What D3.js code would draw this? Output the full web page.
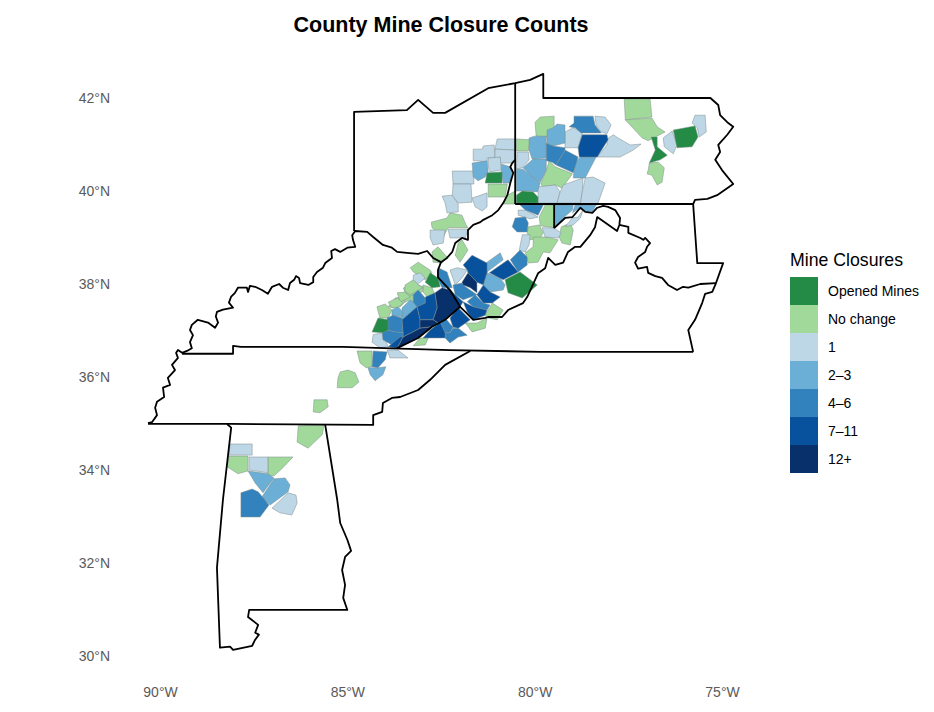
<!DOCTYPE html>
<html>
<head>
<meta charset="utf-8">
<script src="https://cdn.jsdelivr.net/npm/d3@7"></script>
<style>
  body { margin: 0; background: #fff; font-family: "Liberation Sans", Arial, sans-serif; }
</style>
</head>
<body>
<div id="chart"></div>
<script>
// legend classes
const classLabels = ["Opened Mines", "No change", "1", "2–3", "4–6", "7–11", "12+"];
const classColors = ["#238b45", "#a1d99b", "#bdd7e7", "#6baed6", "#3182bd", "#08519c", "#08306b"];
const lonTicks = [-90, -85, -80, -75];
const latTicks = [30, 32, 34, 36, 38, 40, 42];

// county outlines, flat lon,lat lists
const openedCounties = [
  [-81.27,40.39,-80.87,40.41,-80.87,40.17,-81.32,40.17],
  [-80.49,39.91,-80.33,40.00,-80.04,39.98,-79.91,39.87,-79.91,39.74,-80.49,39.74],
  [-80.79,38.09,-80.39,38.26,-79.93,37.98,-80.33,37.70,-80.71,37.81],
  [-82.79,38.24,-82.58,38.13,-82.52,37.94,-82.74,37.92,-82.92,38.04],
  [-84.34,36.97,-84.18,37.27,-83.91,37.23,-83.91,37.01,-84.05,36.95],
  [-76.89,41.16,-76.73,41.16,-76.73,40.95,-76.46,40.77,-76.65,40.67,-76.94,40.60,-76.78,40.88],
  [-76.30,41.31,-75.72,41.40,-75.64,41.16,-75.80,40.95,-76.20,40.93]
];
const noChangeCounties = [
  [-81.24,40.15,-80.73,40.15,-80.79,39.87,-81.24,39.87],
  [-80.73,39.91,-80.52,40.00,-80.52,39.72,-80.84,39.72],
  [-82.76,39.33,-82.34,39.42,-82.26,39.53,-81.94,39.48,-81.83,39.27,-81.78,39.21,-82.31,39.21,-82.44,39.01,-82.74,39.21],
  [-80.49,41.12,-80.12,41.10,-80.17,40.86,-80.49,40.86],
  [-79.99,41.48,-79.85,41.59,-79.48,41.61,-79.48,41.38,-79.67,41.16,-79.96,41.18],
  [-79.61,40.65,-79.45,40.52,-78.99,40.37,-79.27,40.06,-79.45,40.13,-79.80,40.09,-79.83,40.17,-79.69,40.45],
  [-79.88,39.44,-79.72,39.70,-79.45,39.70,-79.45,39.21,-79.85,39.25],
  [-80.17,39.23,-79.88,39.27,-79.77,39.10,-79.85,38.99,-80.12,38.95,-80.20,39.10],
  [-79.29,39.23,-79.05,39.31,-78.97,39.16,-79.05,38.84,-79.27,38.88,-79.35,39.01],
  [-80.04,39.01,-79.67,39.01,-79.37,38.95,-79.59,38.67,-79.77,38.69,-79.91,38.47,-80.17,38.45,-80.25,38.67,-80.04,38.80],
  [-81.32,37.33,-81.13,37.59,-80.84,37.44,-81.00,37.23,-81.24,37.27],
  [-81.85,37.16,-81.54,37.16,-81.27,37.27,-81.32,37.05,-81.67,36.97],
  [-81.94,38.95,-81.78,38.73,-81.99,38.47,-82.12,38.62,-82.04,38.88],
  [-82.74,38.69,-82.58,38.80,-82.34,38.58,-82.47,38.45,-82.71,38.47],
  [-82.98,37.98,-82.74,37.92,-82.66,37.77,-82.87,37.72,-82.98,37.83],
  [-83.51,37.72,-83.27,37.87,-83.24,37.77,-83.24,37.61,-83.32,37.66,-83.46,37.61],
  [-83.91,37.51,-83.72,37.70,-83.54,37.72,-83.46,37.61,-83.59,37.51,-83.78,37.49],
  [-83.51,37.91,-83.24,38.02,-82.98,37.94,-83.00,37.83,-83.24,37.77,-83.38,37.72],
  [-83.32,38.35,-83.11,38.47,-82.79,38.30,-82.74,38.24,-82.92,38.09,-83.24,38.26],
  [-83.46,37.98,-83.24,38.09,-83.11,37.98,-82.98,37.92,-83.32,37.77,-83.46,37.83],
  [-83.67,37.81,-83.46,37.83,-83.32,37.72,-83.59,37.61],
  [-83.91,37.61,-83.67,37.70,-83.51,37.59,-83.65,37.49,-83.81,37.49],
  [-84.21,37.51,-83.99,37.57,-83.81,37.44,-83.91,37.27,-84.13,37.27],
  [-83.06,36.84,-82.84,36.84,-82.92,36.69,-83.24,36.67],
  [-84.74,36.56,-84.34,36.56,-84.34,36.22,-84.50,36.20,-84.66,36.30],
  [-85.19,36.11,-84.98,36.15,-84.79,36.09,-84.69,35.89,-84.87,35.77,-85.27,35.77,-85.25,35.98],
  [-85.89,35.51,-85.54,35.51,-85.51,35.36,-85.73,35.23,-85.91,35.25],
  [-86.31,34.95,-85.62,34.97,-85.67,34.76,-86.05,34.47,-86.34,34.60],
  [-88.16,34.30,-87.65,34.30,-87.65,33.98,-87.92,33.92,-88.21,34.07],
  [-87.12,34.28,-86.45,34.28,-86.72,34.05,-86.96,33.87,-87.12,33.89],
  [-77.61,41.98,-76.92,41.98,-76.87,41.59,-77.58,41.53],
  [-77.58,41.53,-76.87,41.57,-76.73,41.38,-76.52,41.27,-76.97,41.08,-77.13,41.14],
  [-76.94,40.60,-76.70,40.62,-76.54,40.50,-76.60,40.19,-76.73,40.13,-76.87,40.34,-77.00,40.37,-76.97,40.45]
];
const oneClosureCounties = [
  [-81.00,41.12,-80.52,41.12,-80.52,40.88,-81.06,40.90],
  [-81.64,40.90,-81.40,40.90,-81.37,40.97,-81.08,40.99,-81.06,40.71,-81.27,40.71,-81.27,40.62,-81.51,40.65,-81.64,40.65],
  [-81.06,40.90,-80.52,40.88,-80.52,40.67,-80.60,40.60,-80.92,40.60,-80.92,40.73,-81.06,40.71],
  [-81.24,40.71,-80.92,40.73,-80.89,40.45,-81.19,40.41,-81.24,40.52],
  [-82.20,40.43,-81.64,40.43,-81.62,40.15,-82.18,40.15],
  [-82.18,40.15,-81.70,40.15,-81.67,39.76,-82.04,39.74,-82.20,39.89],
  [-82.47,39.89,-82.20,39.91,-82.04,39.72,-82.04,39.55,-82.34,39.53,-82.39,39.74],
  [-81.67,39.85,-81.51,39.89,-81.27,39.96,-81.27,39.66,-81.40,39.57,-81.59,39.66],
  [-82.31,39.18,-81.78,39.18,-81.85,38.99,-82.26,38.99],
  [-82.79,39.16,-82.39,39.16,-82.44,38.88,-82.71,38.84,-82.79,38.99],
  [-80.47,40.84,-80.17,40.84,-80.15,40.67,-80.33,40.50,-80.49,40.47],
  [-78.39,41.61,-78.12,41.59,-77.96,41.42,-78.07,41.23,-78.22,41.27,-78.36,41.42],
  [-79.19,41.27,-78.97,41.36,-78.73,41.25,-78.84,40.93,-79.19,40.93],
  [-78.07,41.12,-77.90,41.21,-77.77,41.14,-77.45,40.99,-77.16,41.01,-77.37,40.88,-77.72,40.73,-77.98,40.73,-78.33,40.73,-78.07,40.99],
  [-79.91,40.09,-79.45,40.13,-79.32,39.98,-79.40,39.74,-79.91,39.74],
  [-79.32,39.98,-79.24,40.13,-78.71,40.28,-78.73,39.98,-78.78,39.74,-79.40,39.74],
  [-78.65,40.28,-78.44,40.30,-78.12,40.17,-78.25,39.87,-78.33,39.70,-78.78,39.70,-78.73,39.98],
  [-78.99,39.42,-78.84,39.44,-78.71,39.59,-78.78,39.42,-78.97,39.27,-79.19,39.23],
  [-80.44,39.59,-80.25,39.59,-79.91,39.44,-80.12,39.40,-80.44,39.48],
  [-79.80,39.21,-79.51,39.21,-79.29,39.10,-79.37,38.99,-79.72,39.01],
  [-80.33,39.06,-80.12,39.06,-80.15,38.84,-80.25,38.69,-80.41,38.73],
  [-82.26,38.30,-82.07,38.35,-81.80,38.30,-81.94,38.13,-82.12,37.98],
  [-83.24,38.19,-83.06,38.24,-82.92,38.13,-83.11,38.00,-83.24,38.09],
  [-84.31,36.91,-84.07,36.95,-83.91,36.65,-84.13,36.63,-84.34,36.75],
  [-83.94,36.58,-83.65,36.58,-83.38,36.41,-83.86,36.41],
  [-88.13,34.56,-87.54,34.56,-87.54,34.32,-88.16,34.32],
  [-87.62,34.28,-87.12,34.28,-87.12,33.94,-87.62,34.00],
  [-87.01,33.18,-86.58,33.51,-86.37,33.46,-86.34,33.29,-86.48,33.03,-86.80,33.08],
  [-76.57,41.14,-76.33,41.29,-76.20,40.99,-76.30,40.80,-76.54,40.95],
  [-75.80,41.46,-75.72,41.63,-75.45,41.63,-75.42,41.27,-75.61,41.16,-75.66,41.36]
];
const twoThreeCounties = [
  [-81.67,40.60,-81.27,40.65,-81.24,40.41,-81.32,40.30,-81.51,40.22,-81.64,40.30],
  [-80.89,40.58,-80.65,40.52,-80.60,40.39,-80.65,40.17,-80.84,40.17,-80.89,40.41],
  [-80.15,41.14,-80.01,41.18,-79.69,41.18,-79.69,40.71,-80.07,40.69,-80.15,40.88],
  [-79.67,41.31,-79.51,41.36,-79.40,41.44,-79.19,41.42,-79.19,41.03,-79.51,40.97,-79.67,41.03],
  [-78.78,40.73,-78.36,40.73,-78.65,40.28,-78.97,40.28,-78.92,40.62],
  [-80.04,40.69,-79.69,40.69,-79.69,40.45,-79.85,40.19,-80.07,40.30,-80.31,40.50],
  [-80.49,40.47,-80.31,40.47,-79.85,40.17,-79.93,39.98,-80.20,40.00,-80.49,40.00],
  [-79.45,39.70,-78.97,39.70,-78.99,39.59,-79.24,39.42,-79.45,39.21],
  [-78.92,39.70,-78.36,39.70,-78.46,39.56,-78.65,39.56,-78.78,39.64,-78.99,39.53],
  [-81.27,38.47,-80.92,38.67,-80.84,38.52,-81.27,38.26],
  [-81.37,37.98,-81.27,38.24,-80.92,38.13,-80.79,37.98,-80.84,37.87,-81.19,37.83,-81.37,37.87],
  [-83.54,37.49,-83.32,37.66,-83.14,37.55,-82.92,37.59,-83.14,37.51,-83.54,37.23],
  [-83.81,37.44,-83.65,37.51,-83.51,37.40,-83.54,37.29,-83.81,37.33],
  [-84.45,36.20,-84.18,36.20,-83.97,36.22,-84.05,36.05,-84.26,35.92,-84.39,36.05],
  [-87.65,33.98,-87.12,33.92,-86.96,33.83,-87.25,33.51,-87.46,33.72],
  [-86.96,33.81,-86.66,33.83,-86.53,33.68,-86.58,33.53,-87.06,33.25,-87.28,33.42]
];
const fourSixCounties = [
  [-79.08,41.38,-78.95,41.46,-78.95,41.61,-78.44,41.61,-78.39,41.42,-78.22,41.25,-78.76,41.25,-78.92,41.36],
  [-79.69,41.03,-79.51,40.97,-79.19,40.93,-79.19,40.88,-79.43,40.56,-79.53,40.62,-79.69,40.65],
  [-79.19,40.88,-78.84,40.73,-78.97,40.39,-79.43,40.56],
  [-80.39,39.70,-79.77,39.70,-79.91,39.48,-80.25,39.59],
  [-80.52,39.42,-80.25,39.44,-80.17,39.31,-80.20,39.12,-80.47,39.12,-80.60,39.23],
  [-80.65,38.52,-80.39,38.73,-80.20,38.58,-80.20,38.41,-80.44,38.26],
  [-82.18,37.98,-81.94,38.02,-81.85,37.94,-81.54,37.77,-81.91,37.66,-82.12,37.77],
  [-81.80,37.62,-81.59,37.77,-81.37,37.59,-81.19,37.55,-81.27,37.44,-81.64,37.51],
  [-82.58,38.35,-82.34,38.26,-82.20,37.92,-82.47,37.92,-82.60,38.13],
  [-83.24,37.77,-83.11,37.87,-82.92,37.70,-82.92,37.59,-83.14,37.51,-83.24,37.61],
  [-83.94,37.27,-83.78,37.33,-83.54,37.27,-83.54,37.23,-83.51,36.95,-83.72,36.97,-83.94,37.01],
  [-84.07,36.95,-83.94,37.01,-83.72,36.97,-83.51,36.95,-83.51,36.86,-83.81,36.69,-84.05,36.80],
  [-84.31,36.56,-83.94,36.54,-83.99,36.37,-84.18,36.20,-84.34,36.22],
  [-82.52,37.18,-82.39,37.27,-82.18,37.07,-82.26,36.95,-82.39,36.95],
  [-82.39,36.95,-82.26,36.95,-82.18,37.05,-82.04,37.05,-81.80,36.90,-82.04,36.86,-82.26,36.73,-82.39,36.84],
  [-87.84,33.51,-87.54,33.59,-87.38,33.53,-87.09,33.25,-87.33,32.99,-87.84,32.99]
];
const sevenElevenCounties = [
  [-78.73,41.21,-78.07,41.21,-78.04,41.10,-78.33,40.73,-78.81,40.73,-78.84,40.93],
  [-81.21,38.24,-80.71,38.52,-80.44,38.26,-80.84,38.09],
  [-81.91,38.41,-81.67,38.62,-81.27,38.45,-81.27,38.24,-81.37,37.98,-81.54,38.04,-81.78,38.24,-81.80,38.30],
  [-81.54,37.77,-81.37,37.98,-81.19,37.83,-80.92,37.72,-81.13,37.59,-81.37,37.59],
  [-81.91,37.62,-81.64,37.51,-81.27,37.44,-81.32,37.33,-81.64,37.23,-81.80,37.40],
  [-82.34,37.94,-82.12,37.77,-81.91,37.62,-81.99,37.51,-82.31,37.70],
  [-82.26,37.27,-82.04,37.49,-81.72,37.23,-82.04,37.05,-82.18,37.07],
  [-82.79,37.01,-82.52,37.18,-82.39,36.95,-82.39,36.84,-82.66,36.84,-82.98,36.84],
  [-82.92,37.72,-82.66,37.81,-82.60,37.49,-82.71,37.23,-83.06,37.23,-83.14,37.51,-82.92,37.59],
  [-83.54,37.23,-83.14,37.51,-83.06,37.23,-83.06,37.05,-83.51,36.86,-83.51,36.95],
  [-83.91,36.65,-83.59,36.86,-83.51,36.86,-83.67,36.62]
];
const twelvePlusCounties = [
  [-81.94,38.04,-81.78,38.24,-81.54,38.04,-81.54,37.81,-81.72,37.92,-81.91,37.98],
  [-82.66,37.81,-82.47,37.92,-82.26,37.87,-81.99,37.51,-82.39,37.23,-82.58,37.16,-82.71,37.23,-82.60,37.49],
  [-83.06,37.23,-82.71,37.23,-82.58,37.16,-82.74,37.08,-83.06,37.05],
  [-83.51,36.86,-83.06,37.05,-82.74,37.08,-83.11,36.84,-83.67,36.62]
];
const countiesByClass = [openedCounties, noChangeCounties, oneClosureCounties, twoThreeCounties, fourSixCounties, sevenElevenCounties, twelvePlusCounties];

// state borders, same flat lists
const lakeAndPaTop = [-84.82,39.14,-84.82,41.70,-83.41,41.74,-83.11,41.96,-82.71,41.68,-82.39,41.68,-81.24,42.21,-80.52,42.32,-80.12,42.39,-79.77,42.52,-79.77,42.00,-75.31,42.00,-75.10,41.85,-75.05,41.63,-74.86,41.48,-74.70,41.38,-74.86,41.21,-75.10,40.99,-75.05,40.84,-75.18,40.67,-75.00,40.45,-74.70,40.15,-75.13,39.91,-75.39,39.83,-75.72,39.81,-75.77,39.72];
const paOhioLine = [-80.52,42.32,-80.52,39.72];
const masonDixon = [-80.52,39.72,-75.77,39.72];
const wvStub = [-79.48,39.72,-79.48,39.20];
const ohioRiver = [-80.52,40.67,-80.60,40.60,-80.65,40.52,-80.57,40.39,-80.65,40.17,-80.73,39.91,-80.84,39.74,-80.97,39.59,-81.13,39.48,-81.37,39.38,-81.45,39.33,-81.64,39.27,-81.78,39.16,-81.78,38.95,-81.94,38.99,-82.12,38.88,-82.20,38.69,-82.34,38.56,-82.50,38.47,-82.71,38.56,-82.87,38.71,-83.11,38.65,-83.41,38.67,-83.67,38.69,-83.81,38.78,-84.05,38.84,-84.31,39.01,-84.47,39.12,-84.79,39.14,-84.87,39.05,-84.85,38.95,-84.79,38.80,-85.00,38.78,-85.19,38.69,-85.33,38.75,-85.43,38.71,-85.41,38.56,-85.59,38.45,-85.65,38.35,-85.81,38.26,-85.91,38.15,-85.91,38.04,-86.04,37.98,-86.26,38.02,-86.29,38.13,-86.37,38.17,-86.42,38.09,-86.53,38.02,-86.58,37.87,-86.72,37.92,-86.82,38.00,-87.01,37.94,-87.12,37.79,-87.28,37.87,-87.46,37.94,-87.60,37.96,-87.65,37.83,-87.68,37.92,-87.92,37.92,-88.00,37.81,-88.10,37.73,-88.16,37.60,-88.05,37.49,-88.32,37.45,-88.48,37.40,-88.51,37.30,-88.45,37.17,-88.53,37.06,-88.72,37.17,-88.99,37.23,-89.15,37.12,-89.20,37.01,-89.12,36.90,-89.20,36.75,-89.15,36.62,-89.28,36.56,-89.41,36.52,-89.52,36.58,-89.57,36.52,-89.52,36.41,-89.68,36.26,-89.60,36.15,-89.79,35.98,-89.73,35.83,-89.92,35.77,-89.89,35.57,-90.08,35.47,-90.13,35.34,-90.08,35.18,-90.21,35.03,-90.32,35.01];
const kyTnLine = [-89.41,36.50,-88.05,36.50,-88.05,36.67,-87.84,36.65,-86.58,36.65,-85.11,36.65,-83.59,36.61,-82.26,36.58,-79.85,36.54,-75.77,36.54];
const tnSouth = [-90.32,34.99,-88.13,34.99,-84.31,34.97,-84.31,35.18,-84.07,35.25,-84.05,35.44,-83.81,35.55,-83.59,35.57,-83.11,35.72,-82.79,35.94,-82.39,36.26,-81.72,36.56];
const kyEast = [-82.50,38.47,-82.58,38.30,-82.58,38.14,-82.26,37.87,-81.99,37.51,-82.39,37.23,-82.74,37.08,-83.11,36.84,-83.67,36.62];
const wvSouth = [-81.99,37.51,-81.85,37.40,-81.64,37.23,-81.32,37.27,-81.24,37.29,-80.87,37.29,-80.71,37.44,-80.31,37.59,-80.20,37.72,-79.91,38.23,-79.72,38.34,-79.64,38.56,-79.45,38.41,-79.24,38.46,-79.11,38.69,-78.92,38.80,-78.78,38.80,-78.52,39.05,-78.39,39.22,-78.33,39.44,-77.80,39.14,-77.74,39.27,-77.72,39.42,-77.85,39.59,-78.04,39.66,-78.17,39.68,-78.33,39.64,-78.46,39.53,-78.65,39.55,-78.78,39.64,-78.99,39.44,-79.19,39.42,-79.48,39.20];
const potomac = [-77.74,39.27,-77.50,39.23,-77.50,39.10,-77.18,38.99,-77.10,38.95,-77.05,38.99,-76.92,38.88,-77.00,38.80,-77.05,38.69,-77.24,38.58,-77.32,38.46,-77.24,38.33,-77.00,38.37,-76.97,38.24,-76.78,38.17,-76.60,38.13,-76.44,37.98,-76.20,37.87,-76.04,37.94,-75.90,37.92,-75.58,38.00,-75.16,38.02];
const vaCoast = [-75.77,39.72,-75.66,38.45,-74.97,38.45,-75.16,38.02,-75.26,37.83,-75.45,37.79,-75.53,37.59,-75.72,37.23,-75.90,37.01,-75.77,36.54];
const alabama = [-88.21,34.99,-88.10,34.91,-88.32,33.36,-88.48,31.90,-88.40,30.18,-88.13,30.20,-88.05,30.13,-87.54,30.22,-87.46,30.35,-87.36,30.46,-87.46,30.50,-87.38,30.67,-87.65,30.84,-87.62,30.99,-85.00,30.99,-85.11,31.25,-85.06,31.53,-85.14,31.85,-85.06,32.13,-84.90,32.26,-85.00,32.50,-85.19,32.86,-85.27,33.36,-85.59,34.97];
const stateLines = [lakeAndPaTop, paOhioLine, masonDixon, wvStub, ohioRiver, kyTnLine, tnSouth, kyEast, wvSouth, potomac, vaCoast, alabama];

const width = 934, height = 712;

const svg = d3.select("#chart").append("svg")
    .attr("width", width)
    .attr("height", height);

const x = d3.scaleLinear().domain([-90, -75]).range([160, 722]);
const y = d3.scaleLinear().domain([30, 42]).range([656, 98]);

// flat list -> pairs
function toPairs(flat) {
    const pairs = [];
    for (let i = 0; i < flat.length; i += 2) pairs.push([flat[i], flat[i + 1]]);
    return pairs;
}
const line = d3.line().x(d => x(d[0])).y(d => y(d[1]));

// counties, lightest classes first so darker ones sit on top
[1, 2, 3, 4, 5, 6, 0].forEach(function (c) {
    svg.append("g").selectAll("path")
        .data(countiesByClass[c])
        .join("path")
        .attr("d", d => line(toPairs(d)) + "Z")
        .attr("fill", classColors[c])
        .attr("stroke", "#7f8c8d")
        .attr("stroke-width", 0.5);
});

svg.append("g").selectAll("path")
    .data(stateLines)
    .join("path")
    .attr("d", d => line(toPairs(d)))
    .attr("fill", "none")
    .attr("stroke", "#000")
    .attr("stroke-width", 1.8)
    .attr("stroke-linejoin", "round");

// axes
const xAxis = svg.append("g")
    .attr("transform", "translate(0,687)")
    .call(d3.axisBottom(x).tickValues(lonTicks).tickSize(0).tickPadding(0).tickFormat(d => Math.abs(d) + "°W"));
const yAxis = svg.append("g")
    .attr("transform", "translate(110,0)")
    .call(d3.axisLeft(y).tickValues(latTicks).tickSize(0).tickPadding(0).tickFormat(d => d + "°N"));
[xAxis, yAxis].forEach(function (a) {
    a.select(".domain").remove();
    a.selectAll("text")
        .attr("fill", "#5a5a5a")
        .style("font-family", '"Liberation Sans", Arial, sans-serif')
        .style("font-size", "14px");
});

svg.append("text")
    .attr("x", 441)
    .attr("y", 32)
    .attr("text-anchor", "middle")
    .style("font-size", "21.5px")
    .style("font-weight", "bold")
    .text("County Mine Closure Counts");

// legend
const legendY = d3.scaleBand().domain(classLabels).range([277, 473]);
svg.append("text")
    .attr("x", 790)
    .attr("y", 266)
    .style("font-size", "17.7px")
    .text("Mine Closures");
svg.append("g").selectAll("rect")
    .data(classLabels)
    .join("rect")
    .attr("x", 790)
    .attr("y", d => legendY(d))
    .attr("width", 28)
    .attr("height", legendY.bandwidth())
    .attr("fill", (d, i) => classColors[i]);
svg.append("g").selectAll("text")
    .data(classLabels)
    .join("text")
    .attr("x", 828)
    .attr("y", d => legendY(d) + legendY.bandwidth() / 2)
    .attr("dy", "0.35em")
    .style("font-size", "14px")
    .text(d => d);
</script>
</body>
</html>
